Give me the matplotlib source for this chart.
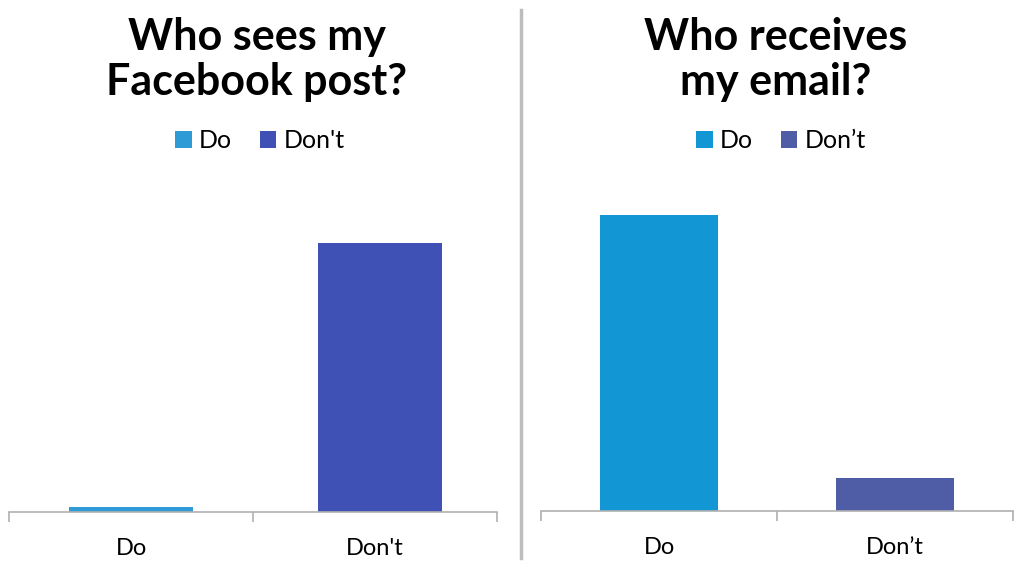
import matplotlib
matplotlib.use("Agg")
import matplotlib.pyplot as plt
from matplotlib.patches import Patch
from matplotlib.lines import Line2D

plt.rcParams['font.family'] = ['Lato', 'DejaVu Sans']

# left panel: facebook post
fb_labels = ["Do", "Don't"]
fb_values = [2, 98]
fb_colors = ["#2E9BD6", "#3F51B5"]

# right panel: email
em_labels = ["Do", "Don\u2019t"]
em_values = [90, 10]
em_colors = ["#1396D4", "#4F5DA6"]

W, H = 1024, 563
fig = plt.figure(figsize=(W / 100, H / 100), dpi=100)


def px_axes(x0, x1, y_base, y_top):
    # axes rectangle from pixel coords (y measured from top of image)
    return fig.add_axes([x0 / W, (H - y_base) / H, (x1 - x0) / W, (y_base - y_top) / H])


def draw_panel(ax, labels, values, colors, width, ymax, shift=0.0):
    xs = [i + shift * i for i in range(len(values))]
    ax.bar(xs, values, width=width, color=colors)
    ax.set_xlim(-0.5, len(values) - 0.5)
    ax.set_ylim(0, ymax)
    for s in ["top", "right", "left"]:
        ax.spines[s].set_visible(False)
    ax.spines["bottom"].set_color("#B0B0B0")
    ax.spines["bottom"].set_linewidth(1.2)
    ax.set_yticks([])
    ax.set_xticks(range(len(values)))
    ax.set_xticklabels(labels, fontsize=17, color="black")
    ax.tick_params(axis="x", which="major", length=0, pad=19)
    ax.set_xticks([i - 0.5 for i in range(len(values) + 1)], minor=True)
    ax.tick_params(axis="x", which="minor", length=7, width=1.2, color="#B0B0B0")


ax1 = px_axes(9, 497, 512, 160)
draw_panel(ax1, fb_labels, fb_values, fb_colors, 0.51, 98 * 352 / 269, shift=0.02)

ax2 = px_axes(541, 1013, 511, 159)
draw_panel(ax2, em_labels, em_values, em_colors, 0.50, 90 * 352 / 296)

# titles
title_kw = dict(ha="center", va="baseline", fontsize=31, fontweight="bold")
fig.text(257 / W, 1 - 50 / H, "Who sees my", **title_kw)
fig.text(257 / W, 1 - 95 / H, "Facebook post?", **title_kw)
fig.text(776 / W, 1 - 50 / H, "Who receives", **title_kw)
fig.text(776 / W, 1 - 95 / H, "my email?", **title_kw)

# legends
for labels, colors, cx in [(fb_labels, fb_colors, 260), (em_labels, em_colors, 781)]:
    handles = [Patch(facecolor=c, edgecolor="none") for c in colors]
    fig.legend(handles, labels, loc="center", bbox_to_anchor=(cx / W, 1 - 141 / H),
               ncol=2, frameon=False, fontsize=18, handlelength=0.65, handleheight=0.65,
               handletextpad=0.3, columnspacing=1.1)

# divider between the two charts
fig.add_artist(Line2D([521 / W, 521 / W], [1 - 10 / H, 1 - 558 / H],
                      color="#BDBDBD", linewidth=2.5))

fig.savefig("out.png", dpi=100)
